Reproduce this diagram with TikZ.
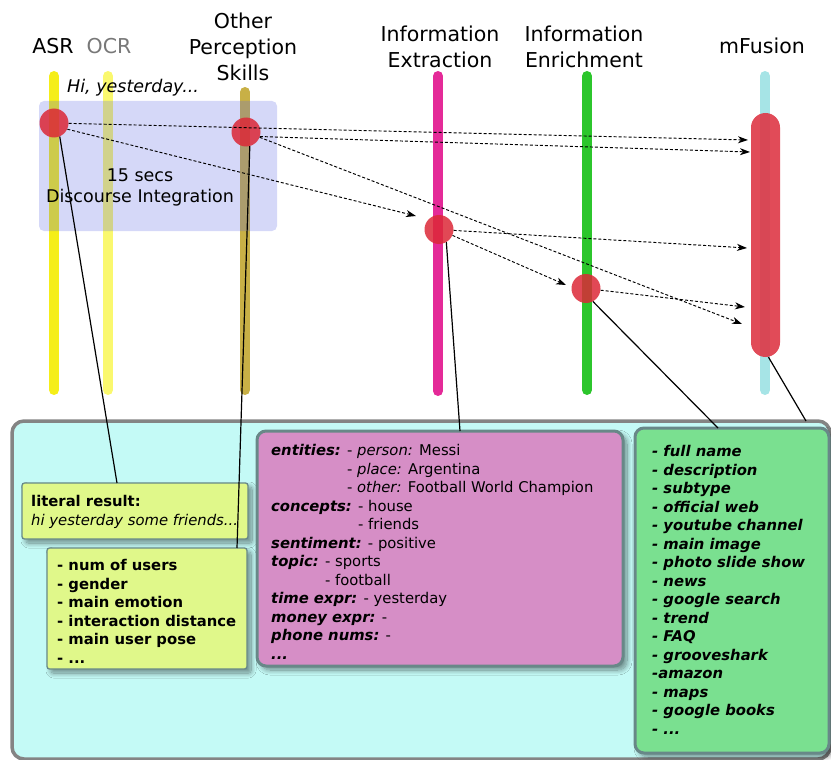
\documentclass[tikz,border=0pt]{standalone}
\usepackage{fontspec}
\setmainfont{DejaVu Sans}[
  BoldFont={DejaVu Sans Bold},
  ItalicFont={DejaVu Sans Oblique},
  BoldItalicFont={DejaVu Sans Bold Oblique}]
\usetikzlibrary{arrows.meta,shadows.blur}

% palette
\definecolor{asryellow}{RGB}{245,238,25}
\definecolor{ocryellow}{RGB}{250,248,110}
\definecolor{opsgold}{RGB}{200,176,70}
\definecolor{iemag}{RGB}{228,42,152}
\definecolor{enrgreen}{RGB}{44,198,44}
\definecolor{mfcyan}{RGB}{166,228,230}
\definecolor{dotred}{RGB}{220,40,55}
\definecolor{mfred}{RGB}{222,55,70}
\definecolor{discblue}{RGB}{87,99,228}
\definecolor{cyanfill}{RGB}{196,250,246}
\definecolor{cyanedge}{RGB}{132,132,132}
\definecolor{boxedge}{RGB}{104,136,136}
\definecolor{limefill}{RGB}{224,248,138}
\definecolor{pinkfill}{RGB}{214,142,198}
\definecolor{mintfill}{RGB}{122,224,144}
\definecolor{ocrgray}{RGB}{120,120,120}

\newcommand\hdrfont{\fontsize{20.5}{26}\selectfont}
\newcommand\notefont{\fontsize{17.5}{21.3}\selectfont}
\newcommand\listfont{\fontsize{14.8}{18.5}\selectfont}
\newcommand\bi[1]{\textbf{\textit{#1}}}

\tikzset{
  lane/.style={line width=10pt, line cap=round},
  hit/.style={circle, inner sep=0pt, minimum size=29pt, fill=dotred, fill opacity=0.85},
  flow/.style={dash pattern=on 3pt off 2pt, line width=0.95pt,
    -{Stealth[length=10pt,width=7pt,inset=3pt]}},
  link/.style={line width=1.2pt},
  hdr/.style={inner sep=0pt, font=\hdrfont, align=center},
  shade/.style={blur shadow={shadow xshift=4pt, shadow yshift=-4pt,
    shadow blur radius=5pt, shadow blur steps=12, shadow opacity=45}},
  smallbox/.style={draw=boxedge, line width=1.3pt, fill=limefill,
    rounded corners=2.5pt, inner sep=0pt, shade},
  bigbox/.style={draw=boxedge, line width=3pt, rounded corners=9pt,
    inner sep=0pt, shade},
  boxtext/.style={inner sep=0pt, anchor=north west, align=left, font=\listfont},
}

\begin{document}
\begin{tikzpicture}[x=1pt,y=-1pt]
\useasboundingbox (0,0) rectangle (831,760);

% results panel
\draw[draw=cyanedge, fill=cyanfill, line width=3.5pt, rounded corners=12pt]
  (12,421) rectangle (830,759);

% processing lanes
\draw[lane, asryellow] (54,76) -- (54,390);
\draw[lane, ocryellow] (108,76) -- (108,390);
\draw[lane, opsgold]   (245,92) -- (245,390);
\draw[lane, iemag]     (438,76) -- (438,391);
\draw[lane, enrgreen]  (587,76) -- (587,390);
\draw[lane, mfcyan]    (765,76) -- (765,390);

% discourse integration window
\fill[discblue, fill opacity=0.25, rounded corners=5pt] (39,101) rectangle (277,231);

% fusion span and processing hits
\node[rectangle, rounded corners=14.5pt, minimum width=29pt, minimum height=244pt,
  inner sep=0pt, fill=mfred, fill opacity=0.9] (mfbar) at (765.5,235) {};
\node[hit] (asrdot) at (54,123) {};
\node[hit] (odot)   at (246,132) {};
\node[hit] (iedot)  at (439,229.5) {};
\node[hit] (enrdot) at (586,288.5) {};

% lane titles
\node[hdr, anchor=base] (tasr) at (53,54) {ASR};
\node[hdr, anchor=base, text=ocrgray] (tocr) at (109,54) {OCR};
\node[hdr, anchor=north] (tops) at (243,12.4) {Other\\Perception\\Skills};
\node[hdr, anchor=north] (tie) at (440,25.4) {Information\\Extraction};
\node[hdr, anchor=north] (tenr) at (584,25.4) {Information\\Enrichment};
\node[hdr, anchor=base] (tmf) at (762,54) {mFusion};

\node[inner sep=0pt, anchor=base west, font=\notefont] (hi) at (67,92.7) {\textit{Hi, yesterday...}};
\node[inner sep=0pt, anchor=north, align=center, font=\notefont] (disc) at (140,168.2)
  {15 secs\\Discourse Integration};

% message flow
\coordinate (mf1) at (748,140);
\coordinate (mf2) at (750,152);
\coordinate (iein) at (416,216);
\coordinate (mf3) at (747,248);
\coordinate (enrin) at (566,285);
\coordinate (mf4) at (745,307);
\coordinate (mf5) at (742,324);
\draw[flow] (asrdot) -- (mf1);
\draw[flow] (odot.-18) -- (mf2);
\draw[flow] (asrdot.-25) -- (iein);
\draw[flow] (odot) -- (mf5);
\draw[flow] (iedot) -- (mf3);
\draw[flow] (iedot) -- (enrin);
\draw[flow] (enrdot) -- (mf4);

% result boxes
\node[smallbox, minimum width=226pt, minimum height=56pt] (litbox) at (135,511) {};
\node[smallbox, minimum width=200pt, minimum height=121pt] (opsbox) at (147,608.5) {};
\node[bigbox, fill=pinkfill, minimum width=366pt, minimum height=235pt] (iebox) at (440,548.5) {};
\node[bigbox, fill=mintfill, minimum width=194pt, minimum height=325pt] (enrbox) at (732,590.5) {};

\node[boxtext] (littext) at (31,495.3) {%
  \textbf{literal result:}\\
  \textit{hi yesterday some friends...}};

\node[boxtext, font=\listfont\bfseries] (opstext) at (57,559.3) {%
  - num of users\\
  - gender\\
  - main emotion\\
  - interaction distance\\
  - main user pose\\
  - ...};

\node[boxtext] (ietext) at (271,444.3) {%
  \bi{entities:} - \textit{person:} Messi\\
  \hphantom{\bi{entities:} }- \textit{place:} Argentina\\
  \hphantom{\bi{entities:} }- \textit{other:} Football World Champion\\
  \bi{concepts:} - house\\
  \hphantom{\bi{concepts:} }- friends\\
  \bi{sentiment:} - positive\\
  \bi{topic:} - sports\\
  \hphantom{\bi{topic:} }- football\\
  \bi{time expr:} - yesterday\\
  \bi{money expr:} -\\
  \bi{phone nums:} -\\
  \bi{...}};

\node[boxtext, font=\listfont\bfseries\itshape] (enrtext) at (652,445.3) {%
  - full name\\
  - description\\
  - subtype\\
  - official web\\
  - youtube channel\\
  - main image\\
  - photo slide show\\
  - news\\
  - google search\\
  - trend\\
  - FAQ\\
  - grooveshark\\
  -amazon\\
  - maps\\
  - google books\\
  - ...};

% leader lines from hits to their results
\coordinate (litin) at (117,483);
\coordinate (opsin) at (237,548);
\coordinate (iebin) at (460,431);
\coordinate (enrbin) at (718,428);
\coordinate (panelin) at (806,421);
\draw[link] (asrdot.-67) -- (litin);
\draw[link] (odot.-75) -- (opsin);
\draw[link] (iedot.-60) -- (iebin);
\draw[link] (enrdot.-62) -- (enrbin);
\draw[link] (mfbar.south) ++(3pt,0) -- (panelin);
\end{tikzpicture}
\end{document}
